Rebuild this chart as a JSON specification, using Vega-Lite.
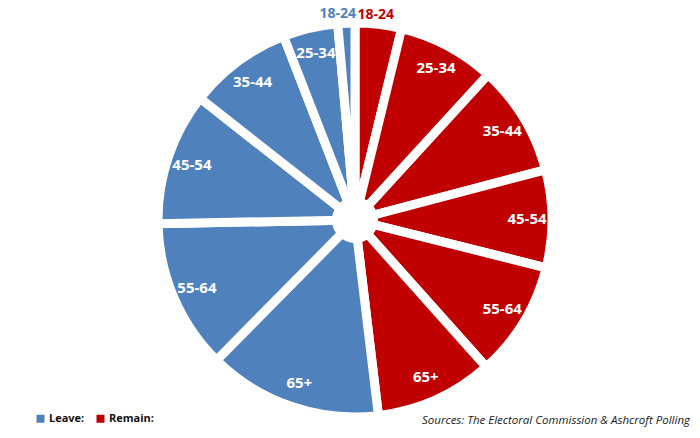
{
  "$schema": "https://vega.github.io/schema/vega-lite/v6.json",
  "width": 710,
  "height": 440,
  "padding": 0,
  "autosize": {"type": "none"},
  "background": "white",
  "config": {"view": {"stroke": null}},
  "title": {
    "text": "Sources: The Electoral Commission & Ashcroft Polling",
    "orient": "bottom",
    "anchor": "end",
    "frame": "group",
    "offset": -25,
    "dx": -20,
    "font": "Open Sans",
    "fontSize": 11.5,
    "fontStyle": "italic",
    "fontWeight": "normal",
    "color": "#1a1a1a"
  },
  "data": {
    "values": [
      {"idx": 1, "side": "Remain", "age": "18-24", "share": 3.8},
      {"idx": 2, "side": "Remain", "age": "25-34", "share": 8.0},
      {"idx": 3, "side": "Remain", "age": "35-44", "share": 9.1},
      {"idx": 4, "side": "Remain", "age": "45-54", "share": 8.0},
      {"idx": 5, "side": "Remain", "age": "55-64", "share": 9.5},
      {"idx": 6, "side": "Remain", "age": "65+", "share": 9.7},
      {"idx": 7, "side": "Leave", "age": "65+", "share": 14.3},
      {"idx": 8, "side": "Leave", "age": "55-64", "share": 12.3},
      {"idx": 9, "side": "Leave", "age": "45-54", "share": 10.9},
      {"idx": 10, "side": "Leave", "age": "35-44", "share": 8.5},
      {"idx": 11, "side": "Leave", "age": "25-34", "share": 4.5},
      {"idx": 12, "side": "Leave", "age": "18-24", "share": 1.4}
    ]
  },
  "encoding": {
    "theta": {"field": "share", "type": "quantitative", "stack": true},
    "order": {"field": "idx", "type": "quantitative", "sort": "ascending"}
  },
  "layer": [
    {
      "mark": {"type": "arc", "outerRadius": 197, "stroke": "white", "strokeWidth": 9},
      "encoding": {
        "color": {
          "field": "side",
          "type": "nominal",
          "scale": {"domain": ["Leave", "Remain"], "range": ["#4F81BD", "#C00000"]},
          "legend": {
            "title": null,
            "orient": "none",
            "legendX": 35,
            "legendY": 413,
            "direction": "horizontal",
            "symbolType": "square",
            "symbolSize": 64,
            "symbolStrokeWidth": 0,
            "labelFont": "Open Sans",
            "labelFontSize": 11,
            "labelFontWeight": "bold",
            "labelColor": "#111111",
            "labelOffset": 3,
            "columnPadding": 10,
            "labelExpr": "datum.label + ':'"
          }
        }
      }
    },
    {
      "mark": {"type": "arc", "outerRadius": 22, "fill": "white", "stroke": "white", "strokeWidth": 2}
    },
    {
      "mark": {"type": "text", "radius": 172, "font": "Open Sans", "fontSize": 15, "fontWeight": "bold", "fill": "white", "align": "center", "baseline": "middle"},
      "encoding": {
        "text": {"field": "age", "type": "nominal"},
        "opacity": {"condition": {"test": "datum.age === '18-24'", "value": 0}, "value": 1}
      }
    },
    {
      "mark": {"type": "text", "radius": 206, "font": "Open Sans", "fontSize": 14, "fontWeight": "bold", "fill": "#4F81BD", "align": "right", "baseline": "middle", "dx": 10},
      "encoding": {
        "text": {"field": "age", "type": "nominal"},
        "opacity": {"condition": {"test": "datum.age === '18-24' && datum.side === 'Leave'", "value": 1}, "value": 0}
      }
    },
    {
      "mark": {"type": "text", "radius": 206, "font": "Open Sans", "fontSize": 14, "fontWeight": "bold", "fill": "#C00000", "align": "left", "baseline": "middle", "dx": -22},
      "encoding": {
        "text": {"field": "age", "type": "nominal"},
        "opacity": {"condition": {"test": "datum.age === '18-24' && datum.side === 'Remain'", "value": 1}, "value": 0}
      }
    }
  ]
}
